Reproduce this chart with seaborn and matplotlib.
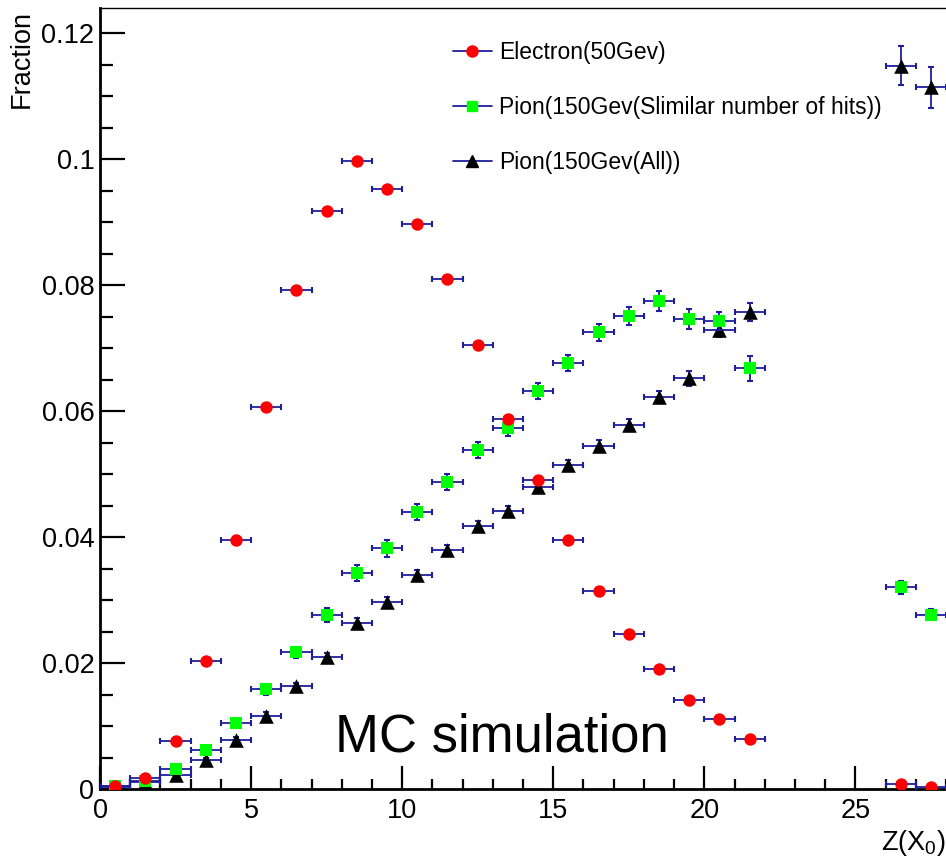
import numpy as np
import pandas as pd
import matplotlib
matplotlib.use("Agg")
import matplotlib.pyplot as plt
from matplotlib.lines import Line2D
from matplotlib.ticker import MultipleLocator, FixedLocator, FixedFormatter
import seaborn as sns

# ---------------- data ----------------
x_bins = [0.5, 1.5, 2.5, 3.5, 4.5, 5.5, 6.5, 7.5, 8.5, 9.5, 10.5, 11.5,
          12.5, 13.5, 14.5, 15.5, 16.5, 17.5, 18.5, 19.5, 20.5, 21.5, 26.5, 27.5]
x_halfwidth = [0.5] * 24

electron = [0.0005, 0.0017, 0.0077, 0.0203, 0.0396, 0.0606, 0.0793, 0.0917,
            0.0997, 0.0953, 0.0897, 0.0810, 0.0705, 0.0587, 0.0490, 0.0395,
            0.0315, 0.0246, 0.0190, 0.0142, 0.0111, 0.0079, 0.0008, 0.0003]
electron_err = [0.0001, 0.0001, 0.0002, 0.0003, 0.0003, 0.0003, 0.0003, 0.0003,
                0.0003, 0.0003, 0.0003, 0.0003, 0.0003, 0.0003, 0.0003, 0.0003,
                0.0003, 0.0003, 0.0003, 0.0002, 0.0002, 0.0002, 0.0001, 0.0001]

pion_sim = [0.0004, 0.0012, 0.0031, 0.0062, 0.0105, 0.0158, 0.0217, 0.0276,
            0.0343, 0.0382, 0.0440, 0.0487, 0.0538, 0.0573, 0.0632, 0.0676,
            0.0725, 0.0751, 0.0775, 0.0746, 0.0743, 0.0668, 0.0320, 0.0277]
pion_sim_err = [0.0001, 0.0002, 0.0003, 0.0004, 0.0006, 0.0008, 0.0009, 0.0011,
                0.0013, 0.0013, 0.0013, 0.0013, 0.0013, 0.0013, 0.0013, 0.0013,
                0.0013, 0.0014, 0.0016, 0.0016, 0.0014, 0.0020, 0.0011, 0.0009]

pion_all = [0.0003, 0.0011, 0.0022, 0.0046, 0.0078, 0.0116, 0.0163, 0.0209,
            0.0264, 0.0297, 0.0340, 0.0379, 0.0418, 0.0441, 0.0479, 0.0514,
            0.0545, 0.0578, 0.0623, 0.0652, 0.0729, 0.0757, 0.1148, 0.1114]
pion_all_err = [0.0001, 0.0002, 0.0003, 0.0004, 0.0005, 0.0006, 0.0006, 0.0007,
                0.0007, 0.0008, 0.0008, 0.0008, 0.0008, 0.0008, 0.0008, 0.0009,
                0.0009, 0.0009, 0.0009, 0.0012, 0.0011, 0.0014, 0.0031, 0.0033]

series_names = ["Electron(50Gev)",
                "Pion(150Gev(Slimilar number of hits))",
                "Pion(150Gev(All))"]
y_ticks = [0, 0.02, 0.04, 0.06, 0.08, 0.1, 0.12]
y_tick_labels = ["0", "0.02", "0.04", "0.06", "0.08", "0.1", "0.12"]
x_ticks = [0, 5, 10, 15, 20, 25]
x_tick_labels = ["0", "5", "10", "15", "20", "25"]

# ---------------- style ----------------
sns.set_theme(style="ticks")
plt.rcParams['font.family'] = ['Liberation Sans', 'DejaVu Sans']
plt.rcParams['text.color'] = 'black'
plt.rcParams['xtick.labelcolor'] = 'black'
plt.rcParams['ytick.labelcolor'] = 'black'
plt.rcParams['mathtext.fontset'] = 'custom'
plt.rcParams['mathtext.rm'] = 'Liberation Sans'
plt.rcParams['mathtext.it'] = 'Liberation Sans'
plt.rcParams['mathtext.default'] = 'regular'

W, H = 946, 861
fig = plt.figure(figsize=(W / 100, H / 100), dpi=100)
ax_left, ax_right, ax_top, ax_bottom = 100, 946, 8, 789
ax = fig.add_axes([ax_left / W, 1 - ax_bottom / H,
                   (ax_right - ax_left) / W, (ax_bottom - ax_top) / H])
ax.set_xlim(0, 28.0)
ax.set_ylim(0, 0.124)

err_color = "#1f1f9e"
specs = [
    (pion_all, pion_all_err, "^", "black", 110, series_names[2]),
    (pion_sim, pion_sim_err, "s", "#00ff00", 74, series_names[1]),
    (electron, electron_err, "o", "#ff0000", 80, series_names[0]),
]

z = 2
for vals, errs, mk, col, size, name in specs:
    ax.errorbar(x_bins, vals, xerr=x_halfwidth, yerr=errs, fmt="none",
                ecolor=err_color, elinewidth=1.3, capsize=2.4, capthick=1.5,
                zorder=z)
    df = pd.DataFrame({"x": x_bins, "y": vals})
    sns.scatterplot(data=df, x="x", y="y", marker=mk, color=col, s=size,
                    linewidth=0, edgecolor=col, ax=ax, zorder=z + 1,
                    legend=False)
    z += 2

# axes styling (ROOT-like)
ax.spines["right"].set_visible(False)
ax.spines["left"].set_linewidth(2.0)
ax.spines["bottom"].set_linewidth(2.0)
ax.spines["top"].set_linewidth(1.0)
for s in ["left", "bottom", "top"]:
    ax.spines[s].set_color("black")

ax.xaxis.set_major_locator(FixedLocator(x_ticks))
ax.xaxis.set_major_formatter(FixedFormatter(x_tick_labels))
ax.xaxis.set_minor_locator(MultipleLocator(1))
ax.yaxis.set_major_locator(FixedLocator(y_ticks))
ax.yaxis.set_major_formatter(FixedFormatter(y_tick_labels))
ax.yaxis.set_minor_locator(MultipleLocator(0.005))

ax.tick_params(axis="both", which="both", direction="in", top=False,
               right=False, color="black", labelcolor="black", width=1.6)
ax.tick_params(axis="y", which="major", length=18, labelsize=19.5, pad=4)
ax.tick_params(axis="y", which="minor", length=9.5)
ax.tick_params(axis="x", which="major", length=16.5, labelsize=19.5, pad=6.5)
ax.tick_params(axis="x", which="minor", length=7.5)
ax.set_xlabel("")
ax.set_ylabel("")
ax.grid(False)

# axis titles
fig.text(22 / W, 1 - 10 / H, "Fraction", rotation=90, ha="center", va="top",
         fontsize=19.5, color="black")
fig.text(946 / W, 1 - 850 / H, r"Z(X$_{0}$)", ha="right", va="baseline",
         fontsize=19.5, color="black")

# annotation
fig.text(335 / W, 1 - 752 / H, "MC simulation", ha="left", va="baseline",
         fontsize=38, color="black")

# legend
handles = [
    Line2D([], [], color=err_color, lw=1.3, marker="o", markersize=8,
           markerfacecolor="#ff0000", markeredgecolor="#ff0000"),
    Line2D([], [], color=err_color, lw=1.3, marker="s", markersize=7.5,
           markerfacecolor="#00ff00", markeredgecolor="#00ff00"),
    Line2D([], [], color=err_color, lw=1.3, marker="^", markersize=8,
           markerfacecolor="black", markeredgecolor="black"),
]
leg = fig.legend(handles, series_names, loc="upper left",
                 bbox_to_anchor=(453 / W, 1 - 41 / H), frameon=False,
                 fontsize=16.5, handlelength=1.7, handletextpad=0.3,
                 labelspacing=1.4, borderpad=0, borderaxespad=0)
for t in leg.get_texts():
    t.set_color("black")

fig.savefig("out.png", dpi=100)
